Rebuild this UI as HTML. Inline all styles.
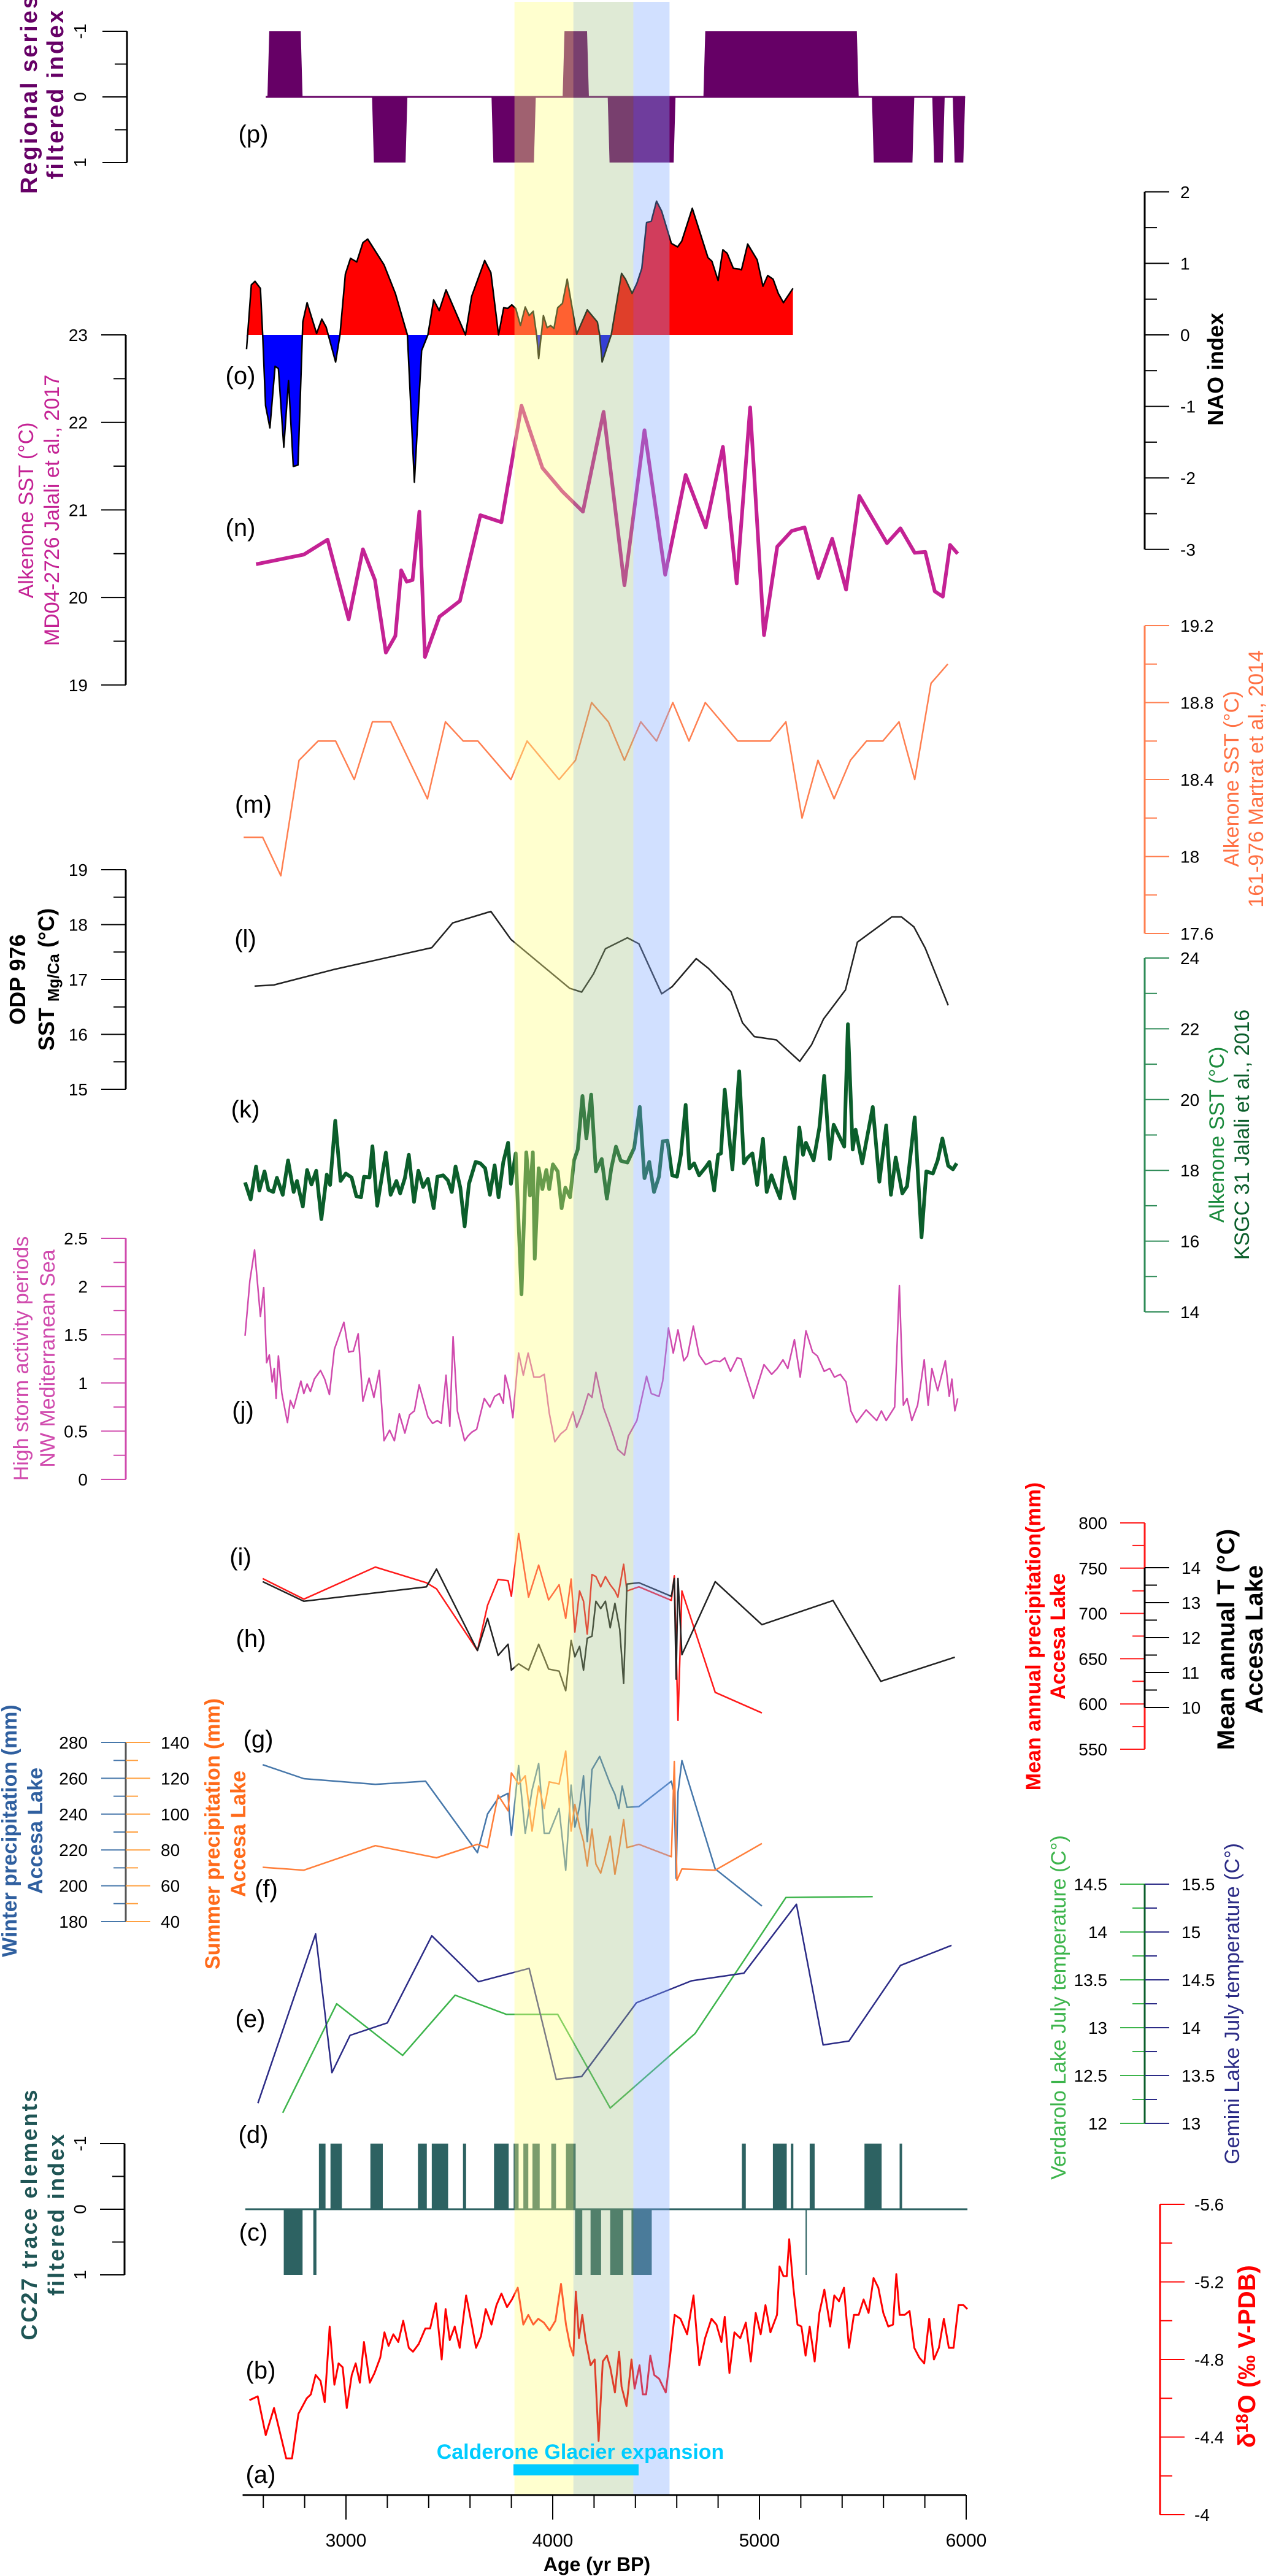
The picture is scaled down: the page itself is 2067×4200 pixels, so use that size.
<!DOCTYPE html>
<html><head><meta charset="utf-8"><style>
html,body{margin:0;padding:0;background:#fff}
svg{display:block;font-family:"Liberation Sans",sans-serif}
</style></head><body>
<svg id="chart" width="2067" height="4200" viewBox="0 0 2067 4200" xmlns="http://www.w3.org/2000/svg">
<g id="marks"></g>
<g id="bands"></g>
<g id="axes"></g>
<g id="labels">
<g font-size="40" fill="#000">
<text x="413" y="232" text-anchor="middle">(p)</text>
<text x="392" y="626" text-anchor="middle">(o)</text>
<text x="392" y="874" text-anchor="middle">(n)</text>
<text x="413" y="1325" text-anchor="middle">(m)</text>
<text x="400" y="1544" text-anchor="middle">(l)</text>
<text x="400" y="1822" text-anchor="middle">(k)</text>
<text x="396" y="2313" text-anchor="middle">(j)</text>
<text x="392" y="2552" text-anchor="middle">(i)</text>
<text x="409" y="2685" text-anchor="middle">(h)</text>
<text x="421" y="2849" text-anchor="middle">(g)</text>
<text x="434" y="3093" text-anchor="middle">(f)</text>
<text x="408" y="3305" text-anchor="middle">(e)</text>
<text x="413" y="3494" text-anchor="middle">(d)</text>
<text x="413" y="3653" text-anchor="middle">(c)</text>
<text x="425" y="3878" text-anchor="middle">(b)</text>
<text x="425" y="4048" text-anchor="middle">(a)</text>
</g>
<text x="946" y="4009" text-anchor="middle" font-size="34" font-weight="bold" fill="#00ccff">Calderone Glacier expansion</text>
<rect x="837" y="4018" width="204" height="18" fill="#00ccff"/>
<text x="973" y="4192" text-anchor="middle" font-size="32" font-weight="bold">Age (yr BP)</text>

<g font-weight="bold" font-size="38" fill="#660066">
<text transform="translate(60,153) rotate(-90)" text-anchor="middle" letter-spacing="3">Regional series</text>
<text transform="translate(103,153) rotate(-90)" text-anchor="middle" letter-spacing="3">filtered index</text></g>
<g font-size="34" fill="#c42294">
<text transform="translate(54,832) rotate(-90)" text-anchor="middle">Alkenone SST (°C)</text>
<text transform="translate(96,832) rotate(-90)" text-anchor="middle">MD04-2726 Jalali et al., 2017</text></g>
<g font-size="36" font-weight="bold" fill="#000">
<text transform="translate(41,1597) rotate(-90)" text-anchor="middle">ODP 976</text>
<text transform="translate(88,1597) rotate(-90)" text-anchor="middle">SST <tspan font-size="26" dy="8">Mg/Ca</tspan><tspan dy="-8"> (°C)</tspan></text></g>
<g font-size="34" fill="#d04aad">
<text transform="translate(46,2215) rotate(-90)" text-anchor="middle">High storm activity periods</text>
<text transform="translate(89,2215) rotate(-90)" text-anchor="middle">NW Mediterranean Sea</text></g>
<g font-size="34" font-weight="bold" fill="#2f5f9f">
<text transform="translate(27,2985) rotate(-90)" text-anchor="middle">Winter precipitation (mm)</text>
<text transform="translate(69,2985) rotate(-90)" text-anchor="middle">Accesa Lake</text></g>
<g font-size="34" font-weight="bold" fill="#ff6a1a">
<text transform="translate(358,2990) rotate(-90)" text-anchor="middle">Summer precipitation (mm)</text>
<text transform="translate(400,2990) rotate(-90)" text-anchor="middle">Accesa Lake</text></g>
<g font-size="36" font-weight="bold" fill="#1f5555">
<text transform="translate(60,3610) rotate(-90)" text-anchor="middle" letter-spacing="3">CC27 trace elements</text>
<text transform="translate(104,3610) rotate(-90)" text-anchor="middle" letter-spacing="3">filtered index</text></g>

<text transform="translate(1994,602) rotate(-90)" text-anchor="middle" font-size="36" font-weight="bold">NAO index</text>
<g font-size="34" fill="#ff7043">
<text transform="translate(2019,1270) rotate(-90)" text-anchor="middle">Alkenone SST (°C)</text>
<text transform="translate(2059,1270) rotate(-90)" text-anchor="middle">161-976 Martrat et al., 2014</text></g>
<g font-size="34">
<text transform="translate(1995,1850) rotate(-90)" text-anchor="middle" fill="#1a8a3c">Alkenone SST (°C)</text>
<text transform="translate(2036,1850) rotate(-90)" text-anchor="middle" fill="#0b5e2b">KSGC 31 Jalali et al., 2016</text></g>
<g font-size="34" font-weight="bold" fill="#ff0000">
<text transform="translate(1696,2668) rotate(-90)" text-anchor="middle">Mean annual precipitation(mm)</text>
<text transform="translate(1736,2668) rotate(-90)" text-anchor="middle">Accesa Lake</text></g>
<g font-size="40" font-weight="bold" fill="#000">
<text transform="translate(2012,2673) rotate(-90)" text-anchor="middle">Mean annual T (°C)</text>
<text transform="translate(2058,2673) rotate(-90)" text-anchor="middle">Accesa Lake</text></g>
<text transform="translate(1737,3273) rotate(-90)" text-anchor="middle" font-size="34" fill="#3cb44b">Verdarolo Lake July  temperature (C°)</text>
<text transform="translate(2020,3267) rotate(-90)" text-anchor="middle" font-size="34" fill="#2b2b86">Gemini Lake July  temperature (C°)</text>
<text transform="translate(2046,3842) rotate(-90)" text-anchor="middle" font-size="40" font-weight="bold" fill="#ff0000">δ<tspan font-size="28" dy="-12">18</tspan><tspan dy="12">O (‰ V-PDB)</tspan></text>
</g>
</svg>
<script>
// ---------- data ----------
const bandStart=[3815,4100,4390];
const bandEnd=[4100,4390,4565];
const pStart=[2620,4048,4729,3126,3704,4266,5544,5836,5935];
const pEnd=[2790,4175,5480,3297,3918,4594,5749,5896,5995];
const pVal=[-1,-1,-1,1,1,1,1,1,1];
const naoAge=[2519,2542,2560,2586,2597,2611,2632,2657,2673,2699,2722,2745,2768,2791,2812,2858,2883,2904,2950,2971,2997,3022,3052,3082,3105,3184,3239,3297,3331,3366,3396,3424,3451,3484,3578,3608,3671,3701,3738,3763,3782,3802,3821,3844,3867,3886,3906,3922,3932,3955,3973,3990,4006,4024,4047,4070,4116,4167,4216,4227,4239,4283,4333,4352,4384,4407,4431,4454,4477,4502,4527,4574,4604,4624,4675,4751,4770,4800,4823,4844,4874,4902,4913,4943,4989,5017,5040,5066,5091,5116,5162];
const naoVal=[-0.2,0.7,0.75,0.65,0,-0.99,-1.3,-0.44,-0.47,-1.57,-0.64,-1.84,-1.82,0.18,0.45,0.02,0.22,0.11,-0.38,0,0.85,1.07,1.02,1.29,1.34,0.98,0.58,0,-2.06,-0.22,0,0.49,0.34,0.63,0,0.54,1.04,0.87,0,0.38,0.37,0.42,0.37,0.13,0.39,0.27,0.33,0,-0.33,0.27,0.1,0.13,0.09,0.38,0.44,0.78,0.01,0.35,0.18,0,-0.38,0,0.86,0.78,0.58,0.72,0.93,1.57,1.59,1.87,1.73,1.28,1.23,1.31,1.77,1.08,1.03,0.76,1.19,1.14,0.93,0.92,0.91,1.27,1.05,0.68,0.83,0.78,0.58,0.45,0.65];
const nAge=[2565,2796,2911,3013,3082,3140,3193,3239,3267,3294,3322,3355,3382,3452,3551,3650,3752,3849,3950,4047,4146,4246,4347,4444,4544,4643,4740,4823,4890,4955,5022,5086,5156,5218,5285,5352,5419,5483,5617,5682,5751,5802,5848,5887,5922,5959];
const nVal=[20.38,20.49,20.66,19.75,20.55,20.2,19.37,19.56,20.31,20.18,20.2,20.98,19.32,19.78,19.96,20.94,20.86,22.19,21.48,21.21,20.98,22.12,20.14,21.91,20.26,21.4,20.8,21.72,20.16,22.17,19.57,20.58,20.76,20.8,20.22,20.67,20.09,21.16,20.62,20.79,20.51,20.52,20.07,20.01,20.6,20.5];
const mAge=[2505,2597,2685,2773,2865,2950,3040,3128,3216,3394,3481,3567,3638,3798,3876,4031,4110,4188,4269,4347,4426,4502,4581,4659,4738,4895,5052,5128,5206,5283,5361,5440,5518,5597,5675,5751,5830,5911];
const mVal=[18.1,18.1,17.9,18.5,18.6,18.6,18.4,18.7,18.7,18.3,18.7,18.6,18.6,18.4,18.6,18.4,18.5,18.8,18.7,18.5,18.7,18.6,18.8,18.6,18.8,18.6,18.6,18.7,18.2,18.5,18.3,18.5,18.6,18.6,18.7,18.4,18.9,19.0];
const lAge=[2558,2650,2939,3415,3516,3701,3798,4082,4140,4197,4255,4361,4417,4527,4578,4694,4754,4862,4918,4975,5082,5195,5252,5310,5416,5474,5640,5687,5747,5802,5913];
const lVal=[16.88,16.9,17.18,17.58,18.03,18.24,17.73,16.84,16.77,17.1,17.56,17.76,17.65,16.74,16.87,17.38,17.2,16.78,16.21,15.96,15.9,15.51,15.81,16.28,16.81,17.68,18.14,18.14,17.96,17.57,16.53];
const kAge=[2512,2539,2565,2581,2606,2625,2648,2666,2694,2720,2747,2763,2791,2812,2833,2856,2881,2907,2923,2948,2974,2999,3027,3050,3073,3087,3114,3128,3151,3174,3193,3216,3244,3262,3285,3304,3329,3350,3373,3396,3424,3442,3470,3493,3512,3530,3553,3574,3595,3627,3650,3673,3696,3719,3738,3761,3784,3798,3821,3849,3872,3890,3904,3913,3932,3950,3969,3983,4001,4024,4043,4061,4084,4103,4121,4144,4163,4186,4209,4237,4262,4283,4306,4329,4361,4394,4421,4444,4467,4490,4514,4532,4555,4578,4601,4620,4643,4661,4684,4708,4740,4758,4781,4800,4814,4832,4869,4902,4925,4943,4966,4989,5017,5035,5058,5077,5100,5123,5142,5169,5193,5211,5225,5262,5290,5313,5340,5359,5410,5428,5451,5465,5497,5548,5580,5613,5636,5659,5691,5714,5751,5784,5807,5839,5862,5885,5913,5936,5954];
const kVal=[17.66,17.18,18.11,17.43,17.97,17.45,17.39,17.79,17.31,18.28,17.39,17.7,16.98,18.01,17.6,17.99,16.62,17.88,17.59,19.4,17.7,17.91,17.8,17.27,17.24,17.82,17.8,18.68,17.0,17.83,18.5,17.31,17.7,17.35,17.78,18.44,17.11,17.99,17.53,17.76,16.93,17.82,17.86,17.72,17.39,18.11,17.51,16.42,17.62,18.24,18.2,18.06,17.31,18.14,17.24,18.24,18.78,17.62,18.48,14.5,18.51,17.29,18.51,15.5,18.06,17.47,18.01,17.47,18.17,17.97,16.93,17.51,17.24,18.28,18.59,20.1,18.9,20.14,17.97,18.32,17.2,18.05,18.67,18.27,18.22,18.63,19.79,17.78,18.24,17.39,17.82,18.82,18.84,17.86,17.82,18.44,19.85,18.05,18.2,17.86,18.09,18.24,17.43,18.44,18.48,20.28,18.03,20.8,18.2,18.36,18.48,17.59,18.89,17.39,17.86,17.55,17.21,18.36,17.82,17.21,19.21,18.44,18.78,18.28,19.21,20.67,18.32,19.29,18.67,22.13,18.59,19.15,18.2,19.79,17.68,19.27,17.31,18.36,17.35,17.55,19.5,16.11,17.97,17.91,18.28,18.9,18.13,18.03,18.2];
const jAge=[2512,2535,2558,2586,2602,2616,2629,2643,2653,2662,2673,2690,2717,2731,2747,2782,2796,2812,2828,2847,2877,2897,2920,2944,2990,3013,3036,3059,3082,3112,3135,3161,3184,3211,3234,3258,3285,3308,3331,3354,3396,3419,3442,3461,3484,3502,3518,3539,3574,3590,3609,3632,3669,3696,3719,3742,3761,3770,3789,3807,3835,3858,3881,3909,3936,3959,3983,4010,4038,4066,4098,4116,4144,4172,4190,4209,4246,4278,4315,4347,4366,4407,4454,4477,4514,4532,4560,4583,4606,4634,4652,4680,4708,4740,4782,4809,4832,4860,4892,4911,4971,5022,5059,5086,5114,5137,5169,5197,5225,5257,5280,5313,5340,5363,5391,5419,5442,5470,5516,5567,5590,5613,5654,5677,5696,5714,5737,5765,5797,5816,5834,5862,5899,5918,5931,5945,5959];
const jVal=[1.49,2.06,2.38,1.69,1.99,1.21,1.29,1.01,1.15,0.84,1.28,0.89,0.59,0.82,0.74,1.02,0.89,0.99,0.91,1.04,1.13,1.04,0.88,1.35,1.63,1.32,1.33,1.51,0.81,1.05,0.85,1.13,0.4,0.51,0.4,0.68,0.48,0.67,0.71,0.98,0.65,0.58,0.61,0.58,1.08,0.55,1.48,0.71,0.4,0.45,0.49,0.52,0.84,0.75,0.86,0.89,0.79,1.08,0.92,0.64,1.31,1.08,1.31,1.06,1.06,1.09,0.69,0.39,0.47,0.52,0.7,0.54,0.69,0.89,0.85,1.11,0.74,0.55,0.31,0.25,0.45,0.61,1.07,0.89,0.86,1.02,1.57,1.31,1.55,1.23,1.28,1.59,1.29,1.19,1.23,1.22,1.26,1.12,1.26,1.25,0.84,1.19,1.09,1.15,1.24,1.15,1.45,1.06,1.54,1.32,1.28,1.12,1.15,1.06,1.09,1.01,0.71,0.59,0.72,0.61,0.71,0.61,0.75,2.01,0.77,0.84,0.61,0.77,1.24,0.77,1.15,0.92,1.23,0.86,1.04,0.71,0.84];
const iAge=[2597,2796,3142,3389,3438,3636,3685,3736,3784,3800,3835,3883,3932,3980,4031,4063,4089,4107,4130,4149,4167,4190,4209,4232,4255,4278,4301,4315,4343,4359,4417,4574,4588,4606,4625,4786,5012];
const iVal=[738.5,715.8,751.2,733.9,727.1,659.1,709,737.6,736.2,719,788.4,718,753.4,714.9,731.7,694.5,738,679.5,724.8,713.5,677.2,743,740.7,729.4,740.7,731.7,724.8,718,754.3,724.8,729.4,714.4,741.6,581.9,724.8,612.8,590.1];
const hAge=[2597,2796,3389,3438,3636,3685,3736,3784,3800,3835,3883,3932,3980,4031,4063,4089,4107,4130,4149,4167,4190,4209,4232,4255,4278,4301,4324,4343,4359,4417,4574,4588,4597,4606,4625,4786,5012,5356,5587,5945];
const hVal=[13.6,13.04,13.45,13.96,11.63,12.55,11.49,11.81,11.07,11.25,11.07,11.81,11.1,11.04,10.48,11.92,11.45,11.75,11.07,11.98,12.04,13.04,12.83,13.04,12.28,12.98,12.24,10.69,13.53,13.57,13.18,13.69,10.81,13.69,11.51,13.6,12.37,13.06,10.75,11.44];
const gAge=[2597,2796,3142,3385,3636,3685,3736,3784,3789,3800,3835,3867,3900,3932,3959,3983,4031,4063,4089,4107,4130,4149,4167,4190,4227,4278,4301,4320,4336,4359,4417,4574,4588,4597,4606,4625,4786,5012];
const gVal=[267.6,259.8,256.6,258.4,218.5,240.1,248.8,251.6,241.9,228.2,267.1,229.3,253.4,268.3,229.3,229.3,243.1,208.7,256.2,232.8,244.2,261.4,224.7,264.9,272.2,256.8,251.1,243.1,255.7,243.8,244.2,258.4,251.1,204.1,252.2,269.9,209.4,188.7];
const fAge=[2597,2796,3142,3438,3636,3685,3736,3784,3800,3835,3867,3900,3932,3959,3983,4031,4063,4089,4107,4130,4149,4167,4190,4209,4232,4255,4278,4301,4320,4343,4359,4417,4574,4588,4601,4625,4786,5012];
const fVal=[70.3,68.7,82.4,75.6,83.1,81.3,110.6,101.9,123,116.8,121.4,90.5,115.7,103.1,118,116.8,135.2,90.5,105.4,92.8,84.7,71,91.6,72.1,67.1,76.7,87.7,66.4,79,96.9,81.3,83.1,76.2,129.4,63,69.4,68.7,83.6];
const verAge=[2694,2955,3274,3528,3775,4024,4278,4689,5128,5548];
const verVal=[12.11,13.25,12.71,13.34,13.14,13.14,12.16,12.94,14.36,14.37];
const gemAge=[2574,2853,2932,3020,3200,3415,3641,3886,4017,4140,4405,4671,4925,5179,5308,5433,5682,5929];
const gemVal=[13.21,14.98,13.53,13.92,14.05,14.96,14.48,14.62,13.46,13.49,14.26,14.49,14.57,15.29,13.82,13.86,14.65,14.86];
const cStart=[2869,2925,3118,3348,3415,3566,3716,3811,3858,3902,3993,4064,4915,5065,5152,5243,5508,5678,2699,2842,4108,4183,4278,4381,5223];
const cEnd=[2901,2980,3178,3391,3494,3581,3787,3835,3882,3937,4016,4111,4934,5132,5164,5267,5591,5690,2790,2857,4143,4234,4341,4479,5227];
const cVal=[-1,-1,-1,-1,-1,-1,-1,-1,-1,-1,-1,-1,-1,-1,-1,-1,-1,-1,1,1,1,1,1,1,1];
const bAge=[2533,2573,2612,2652,2711,2739,2770,2810,2830,2853,2877,2897,2921,2944,2964,2984,3004,3028,3047,3067,3087,3115,3138,3166,3186,3206,3229,3253,3277,3304,3324,3352,3384,3407,3435,3463,3482,3502,3526,3550,3581,3605,3629,3653,3676,3704,3728,3752,3779,3803,3831,3858,3882,3906,3930,3957,3985,4013,4040,4064,4084,4100,4112,4127,4143,4159,4183,4203,4222,4242,4262,4278,4301,4321,4333,4357,4381,4396,4420,4436,4452,4472,4491,4515,4547,4563,4590,4618,4650,4681,4709,4737,4768,4792,4816,4832,4855,4879,4907,4934,4958,4982,5006,5029,5053,5085,5097,5116,5132,5144,5164,5184,5203,5223,5243,5267,5290,5314,5342,5362,5385,5409,5433,5457,5480,5504,5528,5552,5575,5599,5623,5646,5662,5678,5702,5726,5749,5773,5797,5821,5844,5868,5892,5916,5939,5963,5987,6006];
const bVal=[-4.59,-4.61,-4.41,-4.55,-4.29,-4.29,-4.52,-4.6,-4.62,-4.72,-4.69,-4.58,-4.97,-4.67,-4.78,-4.76,-4.55,-4.72,-4.78,-4.68,-4.89,-4.68,-4.73,-4.81,-4.94,-4.87,-4.93,-4.89,-5.0,-4.86,-4.84,-4.88,-4.96,-4.96,-5.09,-4.8,-5.06,-4.9,-4.97,-4.86,-5.13,-5.0,-4.86,-4.92,-5.06,-4.98,-5.08,-5.14,-5.07,-5.11,-5.17,-4.98,-5.03,-4.98,-5.01,-4.99,-4.95,-5.0,-5.19,-4.98,-4.87,-4.82,-5.15,-4.91,-5.03,-4.9,-4.77,-4.8,-4.38,-4.79,-4.82,-4.76,-4.63,-4.84,-4.66,-4.56,-4.8,-4.65,-4.77,-4.62,-4.62,-4.82,-4.72,-4.7,-4.63,-4.77,-5.03,-5.01,-4.93,-5.13,-4.77,-4.91,-5.01,-4.98,-4.89,-5.02,-4.73,-4.94,-4.91,-4.99,-4.79,-5.04,-4.93,-5.08,-4.94,-5.03,-5.28,-5.23,-5.23,-5.42,-5.17,-4.98,-4.97,-4.82,-4.97,-4.79,-5.04,-5.16,-4.97,-5.13,-5.1,-5.17,-4.86,-5.03,-5.03,-5.11,-5.04,-5.22,-5.17,-5.04,-4.97,-4.98,-5.24,-5.03,-5.03,-5.05,-4.86,-4.81,-4.78,-5.01,-4.8,-4.86,-5.01,-4.86,-4.86,-5.08,-5.08,-5.06];
const xTicks=[3000,4000,5000,6000];

// ---------- scales ----------
const NS='http://www.w3.org/2000/svg';
function X(a){return 564+(a-3000)*0.337;}
const Y={
 p:v=>158+v*107, nao:v=>546-v*116.6, n:v=>546+(23-v)*142.7, m:v=>1020+(19.2-v)*313.75,
 l:v=>1418+(19-v)*89.5, k:v=>2139-(v-14)*57.7, j:v=>2412-v*157.2, i:v=>2483+(800-v)*1.476,
 h:v=>2556+(14-v)*57, g:v=>2841+(280-v)*2.92, f:v=>2841+(140-v)*2.92,
 ver:v=>3072+(14.5-v)*156, gem:v=>3072+(15.5-v)*156, c:v=>3602+v*107, b:v=>3594+(v+5.6)*316.25
};
function el(tag,attrs,parent){const e=document.createElementNS(NS,tag);for(const k in attrs)e.setAttribute(k,attrs[k]);parent.appendChild(e);return e;}
const marks=document.getElementById('marks'),axes=document.getElementById('axes'),bands=document.getElementById('bands');
function line(ages,vals,yf,color,w,name){
 const d=ages.map((a,i)=>(i?'L':'M')+X(a).toFixed(1)+','+yf(vals[i]).toFixed(1)).join('');
 const p=el('path',{d:d,fill:'none',stroke:color,'stroke-width':w,'stroke-linejoin':'round'},marks);
 
 
 return p;
}
// regional bars
el('line',{x1:X(2612),x2:X(5995),y1:Y.p(0),y2:Y.p(0),stroke:'#660066','stroke-width':3},marks);
pStart.forEach((s,i)=>{
 const r=el('polygon',{points:`${X(s)},${Y.p(0)} ${X(s)+3},${Y.p(pVal[i])} ${X(pEnd[i])-3},${Y.p(pVal[i])} ${X(pEnd[i])},${Y.p(0)}`,fill:'#660066'},marks);
 
 
});
// NAO filled
{
 const defs=el('defs',{},marks);
 const c1=el('clipPath',{id:'above'},defs);el('rect',{x:0,y:0,width:2067,height:Y.nao(0)},c1);
 const c2=el('clipPath',{id:'below'},defs);el('rect',{x:0,y:Y.nao(0),width:2067,height:500},c2);
 let d='M'+X(naoAge[0])+','+Y.nao(0);
 naoAge.forEach((a,i)=>{d+='L'+X(a).toFixed(1)+','+Y.nao(naoVal[i]).toFixed(1);});
 d+='L'+X(naoAge[naoAge.length-1])+','+Y.nao(0)+'Z';
 const r=el('path',{d:d,fill:'#ff0000','clip-path':'url(#above)'},marks);
 
 
 const b=el('path',{d:d,fill:'#0000ff','clip-path':'url(#below)'},marks);
 
 
 line(naoAge,naoVal,Y.nao,'#000',2.5,'nao-line');
}
line(nAge,nVal,Y.n,'#c42294',6,'md04-sst-line');
line(mAge,mVal,Y.m,'#ff7f50',2.5,'martrat-sst-line');
line(lAge,lVal,Y.l,'#222',2.5,'odp976-sst-line');
line(kAge,kVal,Y.k,'#0b5e2b',6,'ksgc31-sst-line');
line(jAge,jVal,Y.j,'#d04aad',2.5,'storm-activity-line');
line(iAge,iVal,Y.i,'#ff1a1a',2.5,'annual-precip-line');
line(hAge,hVal,Y.h,'#222',2.5,'annual-temp-line');
line(gAge,gVal,Y.g,'#4677aa',2.5,'winter-precip-line');
line(fAge,fVal,Y.f,'#ff7f3a',2.5,'summer-precip-line');
line(verAge,verVal,Y.ver,'#3cb44b',2.5,'verdarolo-temp-line');
line(gemAge,gemVal,Y.gem,'#2b2b86',2.5,'gemini-temp-line');
// CC27
el('line',{x1:X(2513),x2:X(6006),y1:Y.c(0),y2:Y.c(0),stroke:'#2d6262','stroke-width':3},marks);
cStart.forEach((s,i)=>{
 const w=Math.max(X(cEnd[i])-X(s),2);
 const y0=Math.min(Y.c(0),Y.c(cVal[i]));
 const r=el('rect',{x:X(s),y:y0,width:w,height:Math.abs(Y.c(cVal[i])-Y.c(0)),fill:'#2d6262'},marks);
 
 
});
line(bAge,bVal,Y.b,'#ff0000',3,'d18o-line');
// bands
const bandCol=['#ffff80','#9fbf7f','#7fa8ff'],bandOp=[0.38,0.33,0.36],bandNames=['band-yellow','band-green','band-blue'];
bandStart.forEach((s,i)=>{
 const r=el('rect',{x:X(s),y:3,width:X(bandEnd[i])-X(s),height:4064,fill:bandCol[i],'fill-opacity':bandOp[i]},bands);
 
 
});
// ---------- axes ----------
function fmt(v){return (Math.round(v*100)/100).toString();}
function vaxis(o){
 const g=el('g',{},axes);
 
 
 const ys=o.ticks.map(o.yf);
 el('line',{x1:o.x,x2:o.x,y1:Math.min(...ys),y2:Math.max(...ys),stroke:o.lineColor||o.color,'stroke-width':3},g);
 (o.minor||[]).forEach(v=>{const y=o.yf(v);el('line',{x1:o.x,x2:o.x+o.dir*20,y1:y,y2:y,stroke:o.color,'stroke-width':2},g);});
 o.ticks.forEach(v=>{
  const y=o.yf(v);
  el('line',{x1:o.x,x2:o.x+o.dir*40,y1:y,y2:y,stroke:o.color,'stroke-width':2},g);
  let t;
  if(o.rot){t=el('text',{transform:`translate(${o.lx},${y}) rotate(-90)`,'text-anchor':'middle','font-size':28},g);}
  else{t=el('text',{x:o.lx,y:y+10,'text-anchor':o.dir<0?'end':'start','font-size':28},g);}
  t.textContent=fmt(v);
  
  
 });
}
function rng(a,b,s){const r=[];for(let v=a;v<=b+1e-9;v+=s)r.push(Math.round(v*1000)/1000);return r;}
vaxis({name:'regional-axis',x:207,yf:Y.p,ticks:[-1,0,1],minor:[-0.5,0.5],dir:-1,lx:140,rot:true,color:'#000'});
vaxis({name:'nao-axis',x:1866,yf:Y.nao,ticks:rng(-3,2,1),minor:rng(-2.5,1.5,1),dir:1,lx:1924,color:'#000'});
vaxis({name:'md04-axis',x:205,yf:Y.n,ticks:rng(19,23,1),minor:rng(19.5,22.5,1),dir:-1,lx:143,color:'#000'});
vaxis({name:'martrat-axis',x:1866,yf:Y.m,ticks:[17.6,18,18.4,18.8,19.2],minor:[17.8,18.2,18.6,19.0],dir:1,lx:1924,color:'#ff7f50'});
vaxis({name:'odp976-axis',x:205,yf:Y.l,ticks:rng(15,19,1),minor:rng(15.5,18.5,1),dir:-1,lx:143,color:'#000'});
vaxis({name:'ksgc31-axis',x:1866,yf:Y.k,ticks:rng(14,24,2),minor:rng(15,23,2),dir:1,lx:1924,color:'#2e8b57'});
vaxis({name:'storm-axis',x:205,yf:Y.j,ticks:rng(0,2.5,0.5),minor:rng(0.25,2.25,0.5),dir:-1,lx:143,color:'#d04aad'});
vaxis({name:'precip-axis',x:1866,yf:Y.i,ticks:rng(550,800,50),minor:rng(575,775,50),dir:-1,lx:1805,color:'#ff1a1a'});
vaxis({name:'temp-axis',x:1866,yf:Y.h,ticks:rng(10,14,1),minor:rng(10.5,13.5,1),dir:1,lx:1926,color:'#000'});
vaxis({name:'winter-axis',x:205,yf:Y.g,ticks:rng(180,280,20),minor:rng(190,270,20),dir:-1,lx:143,color:'#4677aa',lineColor:'#555'});
vaxis({name:'summer-axis',x:205,yf:Y.f,ticks:rng(40,140,20),minor:rng(50,130,20),dir:1,lx:262,color:'#ffa040',lineColor:'#555'});
vaxis({name:'verdarolo-axis',x:1866,yf:Y.ver,ticks:rng(12,14.5,0.5),minor:rng(12.25,14.25,0.5),dir:-1,lx:1805,color:'#3cb44b',lineColor:'#0b5e2b'});
vaxis({name:'gemini-axis',x:1866,yf:Y.gem,ticks:rng(13,15.5,0.5),minor:rng(13.25,15.25,0.5),dir:1,lx:1926,color:'#2b2b86',lineColor:'#0b5e2b'});
vaxis({name:'cc27-axis',x:203,yf:Y.c,ticks:[-1,0,1],minor:[-0.5,0.5],dir:-1,lx:140,rot:true,color:'#000'});
vaxis({name:'d18o-axis',x:1891,yf:Y.b,ticks:[-5.6,-5.2,-4.8,-4.4,-4],minor:[-5.4,-5.0,-4.6,-4.2],dir:1,lx:1947,color:'#ff0000'});
// x axis
{
 const g=el('g',{},axes);
 
 
 el('line',{x1:X(2500),x2:X(6000),y1:4068,y2:4068,stroke:'#000','stroke-width':3},g);
 rng(2600,6000,200).forEach(a=>{
  const major=xTicks.includes(a);
  el('line',{x1:X(a),x2:X(a),y1:4068,y2:major?4108:4089,stroke:'#000','stroke-width':2},g);
 });
 xTicks.forEach(a=>{
  const t=el('text',{x:X(a),y:4152,'text-anchor':'middle','font-size':30},g);
  t.textContent=a;
  
  
 });
}
</script>
</body></html>
